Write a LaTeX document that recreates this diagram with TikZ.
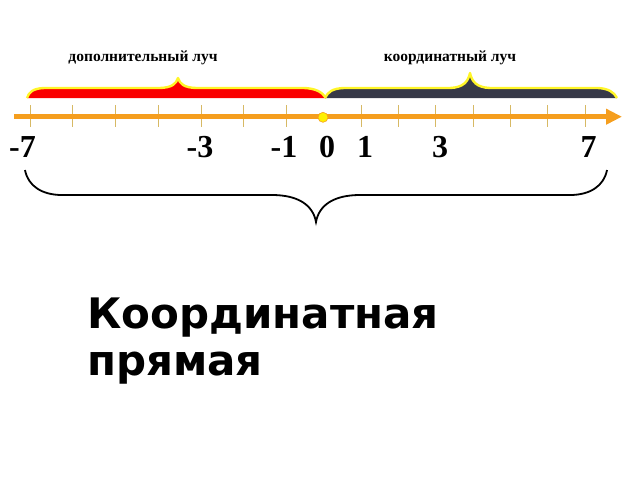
\documentclass[tikz,border=0pt]{standalone}
\usepackage{fontspec}
\setmainfont{Liberation Serif}
\newfontfamily\dejavu{DejaVu Sans}
\usetikzlibrary{arrows.meta}
\definecolor{axisor}{RGB}{245,158,30}
\definecolor{tickc}{RGB}{215,185,100}
\definecolor{rayred}{RGB}{250,0,0}
\definecolor{raygray}{RGB}{55,57,72}
\definecolor{outl}{RGB}{255,245,40}
\definecolor{dotc}{RGB}{255,240,0}
\tikzset{
  numlbl/.style={font=\fontsize{32}{34}\selectfont\bfseries, inner sep=0pt, anchor=base},
  raylbl/.style={font=\fontsize{15.5}{17}\selectfont\bfseries, inner sep=0pt, anchor=base},
  tickline/.style={draw=tickc, line width=1pt},
  outline/.style={draw=outl, line width=2.4pt, line join=round},
}
\begin{document}
\begin{tikzpicture}[x=1pt,y=-1pt]
\useasboundingbox (0,0) rectangle (640,480);
% red brace (additional ray)
\fill[rayred] (27,98) .. controls (29,92) and (33,88.5) .. (44,88) -- (160,88) .. controls (172,87.5) and (176,84) .. (178,78) .. controls (180,84) and (184,87.5) .. (196,88) -- (304,88) .. controls (316,88.5) and (322,92) .. (326,98) -- cycle;
\draw[outline] (27,98) .. controls (29,92) and (33,88.5) .. (44,88) -- (160,88) .. controls (172,87.5) and (176,84) .. (178,78) .. controls (180,84) and (184,87.5) .. (196,88) -- (304,88) .. controls (316,88.5) and (322,92) .. (326,98);
% gray brace (coordinate ray)
\fill[raygray] (325,98) .. controls (328,92) and (332,88.5) .. (344,88) -- (450,88) .. controls (463,87.5) and (468,82) .. (470,73) .. controls (472,82) and (477,87.5) .. (490,88) -- (598,88) .. controls (608,88.5) and (614,92) .. (617,98) -- cycle;
\draw[outline] (325,98) .. controls (328,92) and (332,88.5) .. (344,88) -- (450,88) .. controls (463,87.5) and (468,82) .. (470,73) .. controls (472,82) and (477,87.5) .. (490,88) -- (598,88) .. controls (608,88.5) and (614,92) .. (617,98);
% labels of rays
\node[raylbl] (ladd) at (143,61.5) {дополнительный луч};
\node[raylbl] (lcoord) at (450,61.5) {координатный луч};
% ticks
\foreach \x in {30,72.7,115.7,158.3,201,243.7,286.3,361.7,398,435.7,473,510,547,585}
  \draw[tickline] (\x,105) -- (\x,127);
% axis
\coordinate (axs) at (14,116.7);
\coordinate (axe) at (622,116.7);
\draw[axisor, line width=5pt, -{Triangle[length=16pt,width=15pt]}] (axs) -- (axe);
% origin dot
\node[circle, fill=dotc, draw=axisor, line width=0.6pt, minimum size=10pt, inner sep=0pt] (origin) at (323,117.3) {};
% numbers
\node[numlbl] (nm7) at (22.5,157) {-7};
\node[numlbl] (nm3) at (200,157) {-3};
\node[numlbl] (nm1) at (284,157) {-1};
\node[numlbl] (n0) at (327,157) {0};
\node[numlbl] (n1) at (365,157) {1};
\node[numlbl] (n3) at (440,157) {3};
\node[numlbl] (n7) at (588.5,157) {7};
% big brace
\draw[black, line width=1.8pt] (25,170) .. controls (28,186) and (42,195) .. (62,195) -- (272,195) .. controls (298,195) and (313,205) .. (316,222) .. controls (319,205) and (334,195) .. (360,195) -- (570,195) .. controls (590,195) and (604,186) .. (607,170);
% title
\node[font=\dejavu\fontsize{42}{47}\selectfont\bfseries, anchor=base west, inner sep=0pt, align=left] (title) at (87,375) {Координатная\\прямая};
\end{tikzpicture}
\end{document}
